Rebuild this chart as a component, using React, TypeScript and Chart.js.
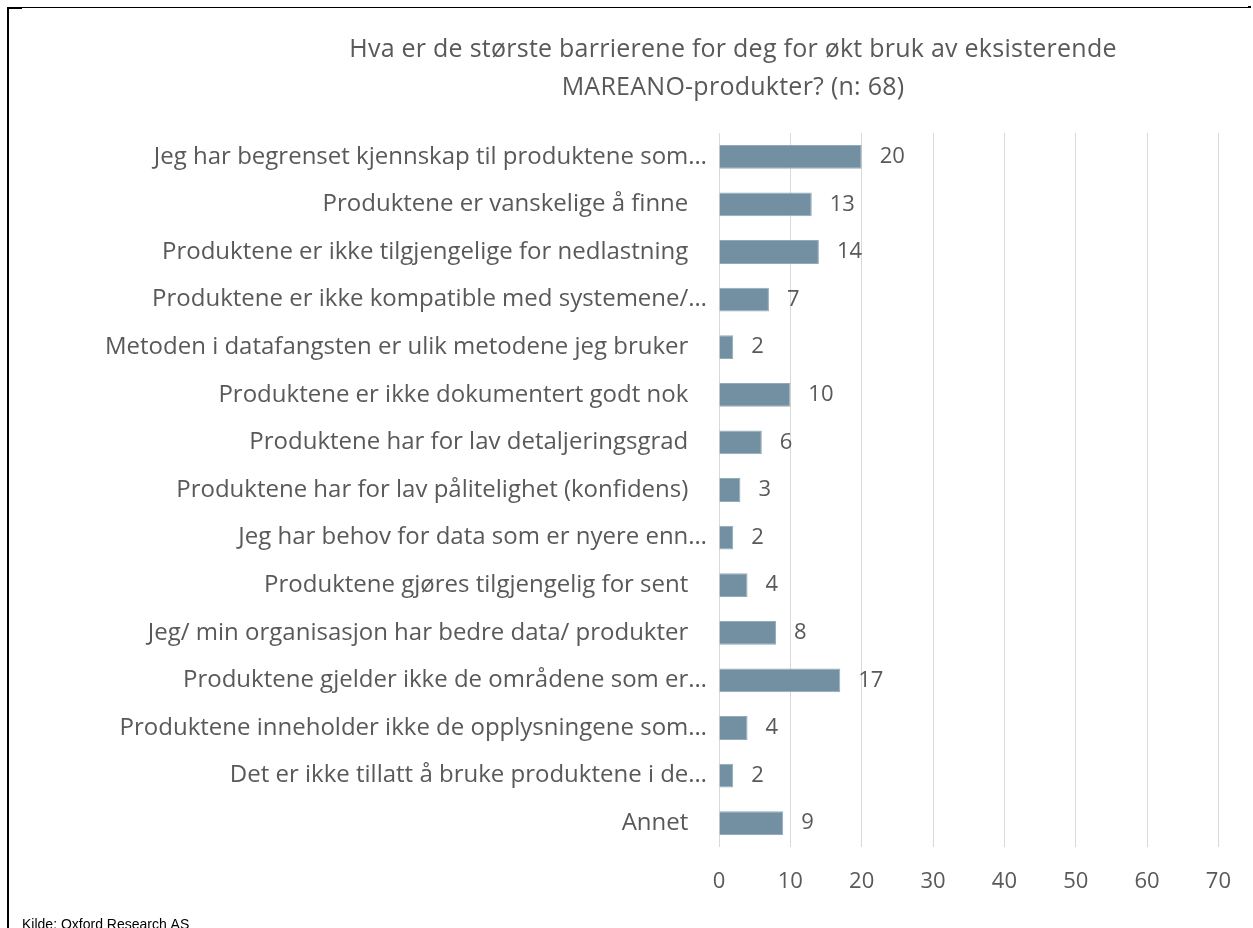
import React, { useEffect, useRef } from "react";
import { Chart, registerables } from "chart.js";

Chart.register(...registerables);

const titleLines = [
  "Hva er de største barrierene for deg for økt bruk av eksisterende",
  "MAREANO-produkter? (n: 68)",
];

const categories = [
  "Jeg har begrenset kjennskap til produktene som…",
  "Produktene er vanskelige å finne",
  "Produktene er ikke tilgjengelige for nedlastning",
  "Produktene er ikke kompatible med systemene/…",
  "Metoden i datafangsten er ulik metodene jeg bruker",
  "Produktene er ikke dokumentert godt nok",
  "Produktene har for lav detaljeringsgrad",
  "Produktene har for lav pålitelighet (konfidens)",
  "Jeg har behov for data som er nyere enn…",
  "Produktene gjøres tilgjengelig for sent",
  "Jeg/ min organisasjon har bedre data/ produkter",
  "Produktene gjelder ikke de områdene som er…",
  "Produktene inneholder ikke de opplysningene som…",
  "Det er ikke tillatt å bruke produktene i de…",
  "Annet",
];

const values = [20, 13, 14, 7, 2, 10, 6, 3, 2, 4, 8, 17, 4, 2, 9];

const xTicks = [0, 10, 20, 30, 40, 50, 60, 70];

const sourceText = "Kilde: Oxford Research AS";

const TEXT_GRAY = "#595959";
const BAR_COLOR = "#7390a3";
const FONT = "'Open Sans', sans-serif";

export default function App() {
  const ref = useRef<HTMLCanvasElement | null>(null);

  useEffect(() => {
    const canvas = ref.current;
    if (!canvas) return;

    const decor = {
      id: "decor",
      afterDraw(chart: any) {
        const ctx = chart.ctx;
        ctx.save();
        // frame
        ctx.fillStyle = "#000";
        ctx.fillRect(8, 7, 1242, 1);
        ctx.fillRect(8, 7, 14, 2);
        ctx.fillRect(7, 7, 2, 921);
        ctx.fillRect(1248, 6, 3, 2);
        // title
        ctx.fillStyle = TEXT_GRAY;
        ctx.font = `25px ${FONT}`;
        try {
          (ctx as any).letterSpacing = "0.25px";
        } catch (e) {}
        ctx.textAlign = "center";
        ctx.textBaseline = "middle";
        ctx.fillText(titleLines[0], 733, 50);
        ctx.fillText(titleLines[1], 733, 88);
        try {
          (ctx as any).letterSpacing = "0px";
        } catch (e) {}
        // value labels
        const meta = chart.getDatasetMeta(0);
        ctx.font = `22px ${FONT}`;
        ctx.textAlign = "left";
        ctx.textBaseline = "middle";
        meta.data.forEach((bar: any, i: number) => {
          ctx.fillText(String(values[i]), bar.x + 18, bar.y);
        });
        // source
        ctx.fillStyle = "#000";
        ctx.font = `14px 'Liberation Sans', Arial, sans-serif`;
        ctx.textAlign = "left";
        ctx.textBaseline = "alphabetic";
        ctx.fillText(sourceText, 22, 929);
        ctx.restore();
      },
    };

    const chart = new Chart(canvas, {
      type: "bar",
      data: {
        labels: categories,
        datasets: [
          {
            data: values,
            backgroundColor: BAR_COLOR,
            borderColor: "#93abb9",
            borderWidth: 1,
            barPercentage: 0.5,
            categoryPercentage: 1,
          },
        ],
      },
      options: {
        indexAxis: "y",
        animation: false,
        responsive: false,
        layout: { padding: { top: 133, right: 32, left: 0, bottom: 0 } },
        plugins: {
          legend: { display: false },
          title: { display: false },
          tooltip: { enabled: false },
        },
        scales: {
          x: {
            min: 0,
            max: 70,
            afterFit(scale: any) {
              scale.height = 81;
            },
            afterBuildTicks(scale: any) {
              scale.ticks = xTicks.map((v) => ({ value: v }));
            },
            grid: { color: "#d9d9d9", drawTicks: false, lineWidth: 1 },
            border: { display: false },
            ticks: {
              color: TEXT_GRAY,
              font: { family: FONT, size: 22 },
              padding: 22,
              maxRotation: 0,
            },
          },
          y: {
            afterFit(scale: any) {
              scale.width = 719;
            },
            grid: { display: false },
            border: { display: false },
            ticks: {
              color: TEXT_GRAY,
              font: { family: FONT, size: 24 },
              padding: 4,
              autoSkip: false,
              callback(_v: any, i: number) {
                const l = categories[i];
                return l.endsWith("…") ? l : l + "   ";
              },
            },
          },
        },
      },
      plugins: [decor],
    });

    return () => chart.destroy();
  }, []);

  return (
    <div
      style={{
        position: "absolute",
        left: 0,
        top: 0,
        width: 1253,
        height: 928,
        overflow: "hidden",
        background: "#fff",
      }}
    >
      <canvas ref={ref} width={1253} height={928} style={{ display: "block" }} />
    </div>
  );
}
